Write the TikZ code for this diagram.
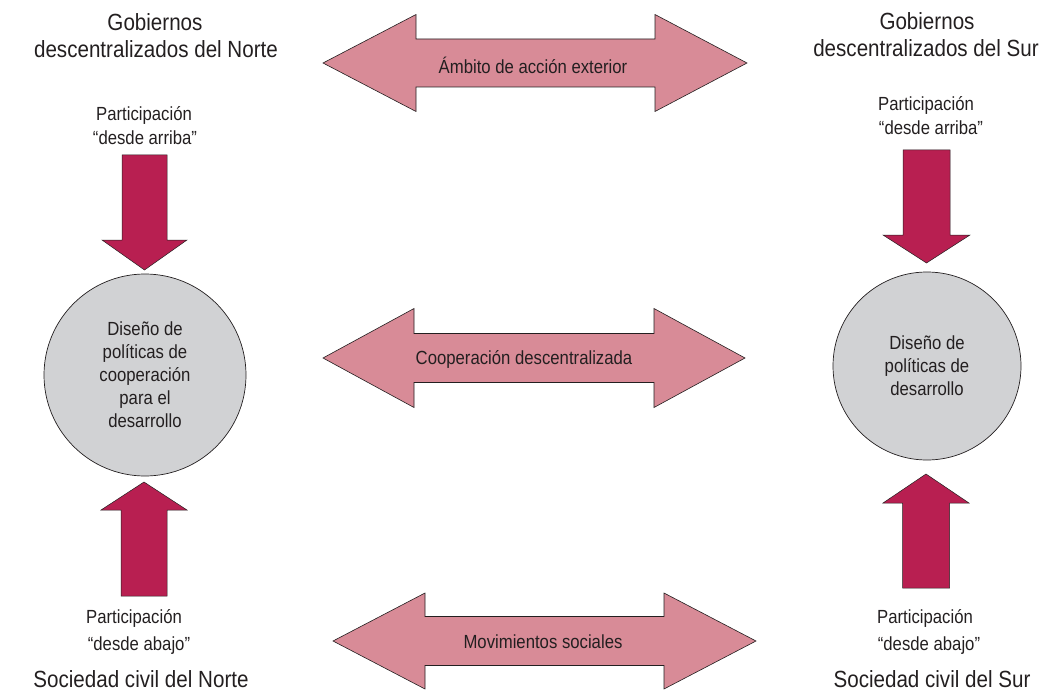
\documentclass[tikz,border=0pt]{standalone}
\usepackage{fontspec}
\setmainfont{Liberation Sans}[FakeStretch=0.88]
\definecolor{pinkfill}{HTML}{D88B97}
\definecolor{crimson}{HTML}{B81F51}
\definecolor{circfill}{HTML}{D1D2D4}
\definecolor{ink}{HTML}{231F20}
\tikzset{
  bigtxt/.style={font=\fontsize{23.4}{28}\selectfont, text=ink, inner sep=0pt, anchor=base},
  smalltxt/.style={font=\fontsize{19}{23}\selectfont, text=ink, inner sep=0pt, anchor=base},
  dblarrow/.style={fill=pinkfill, draw=ink, line width=0.6pt, line join=miter},
  blockarrow/.style={fill=crimson, draw=ink, line width=0.5pt, line join=miter},
  policy/.style={circle, fill=circfill, draw=ink, line width=0.7pt, align=center,
    font=\fontsize{19}{23}\selectfont, text=ink, inner sep=0pt},
}
% horizontal double arrow: #1 left tip x, #2 left head base x, #3 right head base x,
% #4 right tip x, #5 centre y, #6 shaft half width, #7 head half width
\newcommand{\hdblarrow}[7]{%
  \draw[dblarrow] (#1,#5) -- (#2,#5-#7) -- (#2,#5-#6) -- (#3,#5-#6) -- (#3,#5-#7)
    -- (#4,#5) -- (#3,#5+#7) -- (#3,#5+#6) -- (#2,#5+#6) -- (#2,#5+#7) -- cycle;}
% vertical block arrow: #1 centre x, #2 shaft half, #3 head half, #4 tail y, #5 head base y, #6 tip y
\newcommand{\vblockarrow}[6]{%
  \draw[blockarrow] (#1-#2,#4) -- (#1+#2,#4) -- (#1+#2,#5) -- (#1+#3,#5) -- (#1,#6)
    -- (#1-#3,#5) -- (#1-#2,#5) -- cycle;}
\begin{document}
\begin{tikzpicture}[x=1pt,y=-1pt]
\useasboundingbox (0,0) rectangle (1050,690);

% headings
\node[bigtxt] (gn1) at (155,31) {Gobiernos};
\node[bigtxt] (gn2) at (156,58) {descentralizados del Norte};
\node[bigtxt] (gs1) at (927,30) {Gobiernos};
\node[bigtxt] (gs2) at (926,57) {descentralizados del Sur};
\node[bigtxt] (sn) at (141,687) {Sociedad civil del Norte};
\node[bigtxt] (ss) at (932,687) {Sociedad civil del Sur};

% participation labels
\node[smalltxt] (pna1) at (144,121) {Participación};
\node[smalltxt] (pna2) at (145,145) {“desde arriba”};
\node[smalltxt] (psa1) at (926,111) {Participación};
\node[smalltxt] (psa2) at (931,135) {“desde arriba”};
\node[smalltxt] (pnb1) at (134,623) {Participación};
\node[smalltxt] (pnb2) at (139,650) {“desde abajo”};
\node[smalltxt] (psb1) at (925,623) {Participación};
\node[smalltxt] (psb2) at (929,650) {“desde abajo”};

% horizontal double arrows
\hdblarrow{323}{416}{655}{747}{63}{24}{48.5}
\hdblarrow{323}{414}{654}{745}{358}{24.5}{49.5}
\hdblarrow{333}{425}{664}{756}{641}{24.5}{48}
\node[smalltxt] (ext) at (533,74) {Ámbito de acción exterior};
\node[smalltxt] (coop) at (524,364) {Cooperación descentralizada};
\node[smalltxt] (mov) at (543,648) {Movimientos sociales};

% vertical block arrows
\vblockarrow{144.5}{22.5}{42.5}{155}{240}{270}
\vblockarrow{144}{23}{43}{596}{510}{482}
\vblockarrow{926.5}{23.5}{43.5}{150}{235}{263}
\vblockarrow{926}{23.5}{43}{588}{503}{474}

% policy circles
\node[policy, minimum size=202pt] (cn) at (145,375)
  {Diseño de\\políticas de\\cooperación\\para el\\desarrollo};
\node[policy, minimum size=188pt] (cs) at (927,366)
  {Diseño de\\políticas de\\desarrollo};
\end{tikzpicture}
\end{document}
